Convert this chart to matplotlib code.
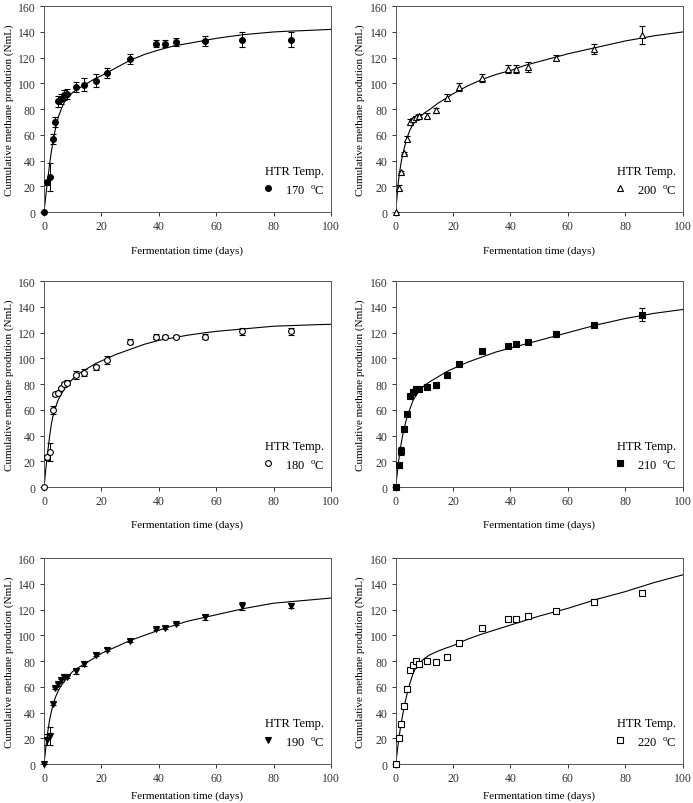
import numpy as np
import matplotlib
matplotlib.use('Agg')
import matplotlib.pyplot as plt

plt.rcParams['font.family'] = ['Liberation Serif', 'DejaVu Serif']
plt.rcParams['font.size'] = 8.5
plt.rcParams['mathtext.fontset'] = 'custom'
plt.rcParams['mathtext.rm'] = 'Liberation Serif'

# sampling days
days = [0, 1, 2, 3, 4, 5, 6, 7, 8, 11, 14, 18, 22, 30, 39, 42, 46, 56, 69, 86]

# measured cumulative methane (NmL) and error per temperature
y170 = [0, 23, 27, 57, 70, 86, 88, 91, 92, 97, 99, 102, 108, 119, 131, 131, 132, 133, 134, 134]
e170 = [0, 2, 11, 4, 4, 4, 4, 4, 4, 4, 5, 5, 4, 4, 3, 3, 3, 4, 6, 6]
y200 = [0, 19, 31, 46, 57, 70, 72, 74, 75, 75, 79, 89, 97, 104, 111, 111, 113, 120, 127, 138]
e200 = [0, 2, 1, 1, 2, 2, 1, 1, 1, 2, 2, 3, 3, 3, 3, 3, 4, 2, 4, 7]
y180 = [0, 23, 27, 60, 72, 73, 77, 80, 81, 87, 89, 93, 99, 113, 117, 117, 117, 117, 121, 121]
e180 = [0, 2, 7, 3, 1, 1, 1, 2, 2, 3, 3, 2, 3, 2, 2, 1, 1, 2, 3, 3]
y210 = [0, 17, 28, 45, 57, 71, 74, 76, 76, 78, 79, 87, 96, 106, 110, 111, 113, 119, 126, 134]
e210 = [0, 2, 3, 1, 1, 1, 1, 1, 1, 1, 1, 1, 1, 1, 1, 1, 1, 1, 1, 5]
y190 = [0, 19, 22, 47, 59, 62, 65, 68, 68, 72, 78, 85, 89, 96, 105, 106, 109, 114, 123, 123]
e190 = [0, 4, 7, 1, 1, 1, 1, 1, 1, 2, 2, 1, 1, 1, 1, 1, 1, 2, 3, 2]
y220 = [0, 20, 31, 45, 58, 73, 77, 80, 78, 80, 79, 83, 94, 106, 113, 113, 115, 119, 126, 133]
e220 = [0, 1, 2, 1, 1, 1, 1, 1, 1, 1, 1, 1, 1, 1, 1, 1, 1, 1, 2, 1]

# fitted curves, values
fit_x = [0, 0.5, 1, 1.5, 2, 2.5, 3, 4, 5, 6, 7, 8, 10, 12, 15, 18, 20, 25, 30, 35,
         40, 45, 50, 55, 60, 65, 70, 75, 80, 85, 90, 95, 100]
fit170 = [0, 10, 20, 29, 38, 46, 53, 65, 74, 80, 85, 88, 93, 96, 100, 104, 106, 112, 118, 122.5,
          126, 129, 131, 133, 135, 136.6, 138, 139, 140, 140.6, 141, 141.5, 142]
fit200 = [0, 13, 25, 33, 40, 45, 50, 58, 64, 68, 71, 73, 77, 80, 85, 89, 92, 98, 103, 107,
          110, 114, 117, 120, 123, 125.5, 128, 130.5, 133, 135, 137, 138.5, 140]
fit180 = [0, 11, 22, 31, 40, 48, 54, 62, 68, 72, 76, 79, 84, 88, 92, 96, 98, 103, 107, 111,
          114, 116, 118, 119.6, 121, 122, 123, 124, 125, 125.4, 125.8, 126.2, 126.5]
fit210 = [0, 10, 20, 28, 35, 41, 46, 55, 61, 67, 71, 74, 79, 82, 86, 90, 92, 97, 101, 105,
          108, 111, 114, 117, 120, 123, 126, 128.5, 131, 133, 135, 136.5, 138]
fit190 = [0, 10, 20, 28, 35, 40, 45, 52, 57, 61, 64, 67, 72, 75, 79, 83, 86, 91, 96, 100,
          104, 107.5, 111, 113.5, 116, 118.5, 121, 123, 125, 126, 127, 128, 129]
fit220 = [0, 9, 18, 26, 33, 39, 45, 55, 63, 70, 75, 78, 82, 85, 88, 90.5, 92, 97, 101, 104.5,
          108, 111.5, 115, 118, 121, 124.5, 128, 131, 134, 137.5, 141, 144, 147]

panels = [
    (y170, e170, fit170, 'o', 'black', '170'),
    (y200, e200, fit200, '^', 'white', '200'),
    (y180, e180, fit180, 'o', 'white', '180'),
    (y210, e210, fit210, 's', 'black', '210'),
    (y190, e190, fit190, 'v', 'black', '190'),
    (y220, e220, fit220, 's', 'white', '220'),
]

fig = plt.figure(figsize=(6.93, 8.04), dpi=100)
lefts = [0.0635, 0.571]
bottoms = [0.735, 0.393, 0.0485]
w, h = 0.414, 0.256

for i, (y, e, fit, mk, fc, lab) in enumerate(panels):
    ax = fig.add_axes([lefts[i % 2], bottoms[i // 2], w, h])
    ax.plot(fit_x, fit, color='black', lw=0.8, zorder=2)
    eb = ax.errorbar(days, y, yerr=e, fmt=mk, ms=4.2, mfc=fc, mec='black', mew=0.8,
                     ecolor='black', elinewidth=0.7, capsize=2.5, capthick=0.7, zorder=3)
    eb.lines[0].set_clip_on(False)
    ax.set_xlim(0, 100)
    ax.set_ylim(0, 160)
    ax.set_xticks(range(0, 101, 20))
    ax.set_yticks(range(0, 161, 20))
    ax.tick_params(direction='out', length=3, width=0.7, labelsize=8.5, colors='#333333', pad=3)
    for s in ax.spines.values():
        s.set_linewidth(0.7)
        s.set_color('#555555')
    # bottom row: label kept inside the figure
    lp = 4 if i >= 4 else 9
    ax.set_xlabel('Fermentation time (days)', fontsize=8, labelpad=lp)
    ax.set_ylabel('Cumulative methane prodution (NmL)', fontsize=8, labelpad=3)
    # legend
    ax.text(0.77, 0.20, 'HTR Temp.', transform=ax.transAxes, fontsize=9, va='center', ha='left')
    ax.plot([0.782], [0.117], marker=mk, ms=4.2, mfc=fc, mec='black', mew=0.8,
            transform=ax.transAxes, clip_on=False)
    ax.text(0.84, 0.105, lab + r'  $^{\mathrm{o}}$C', transform=ax.transAxes,
            fontsize=9, va='center', ha='left')

fig.savefig('out.png', dpi=100)
